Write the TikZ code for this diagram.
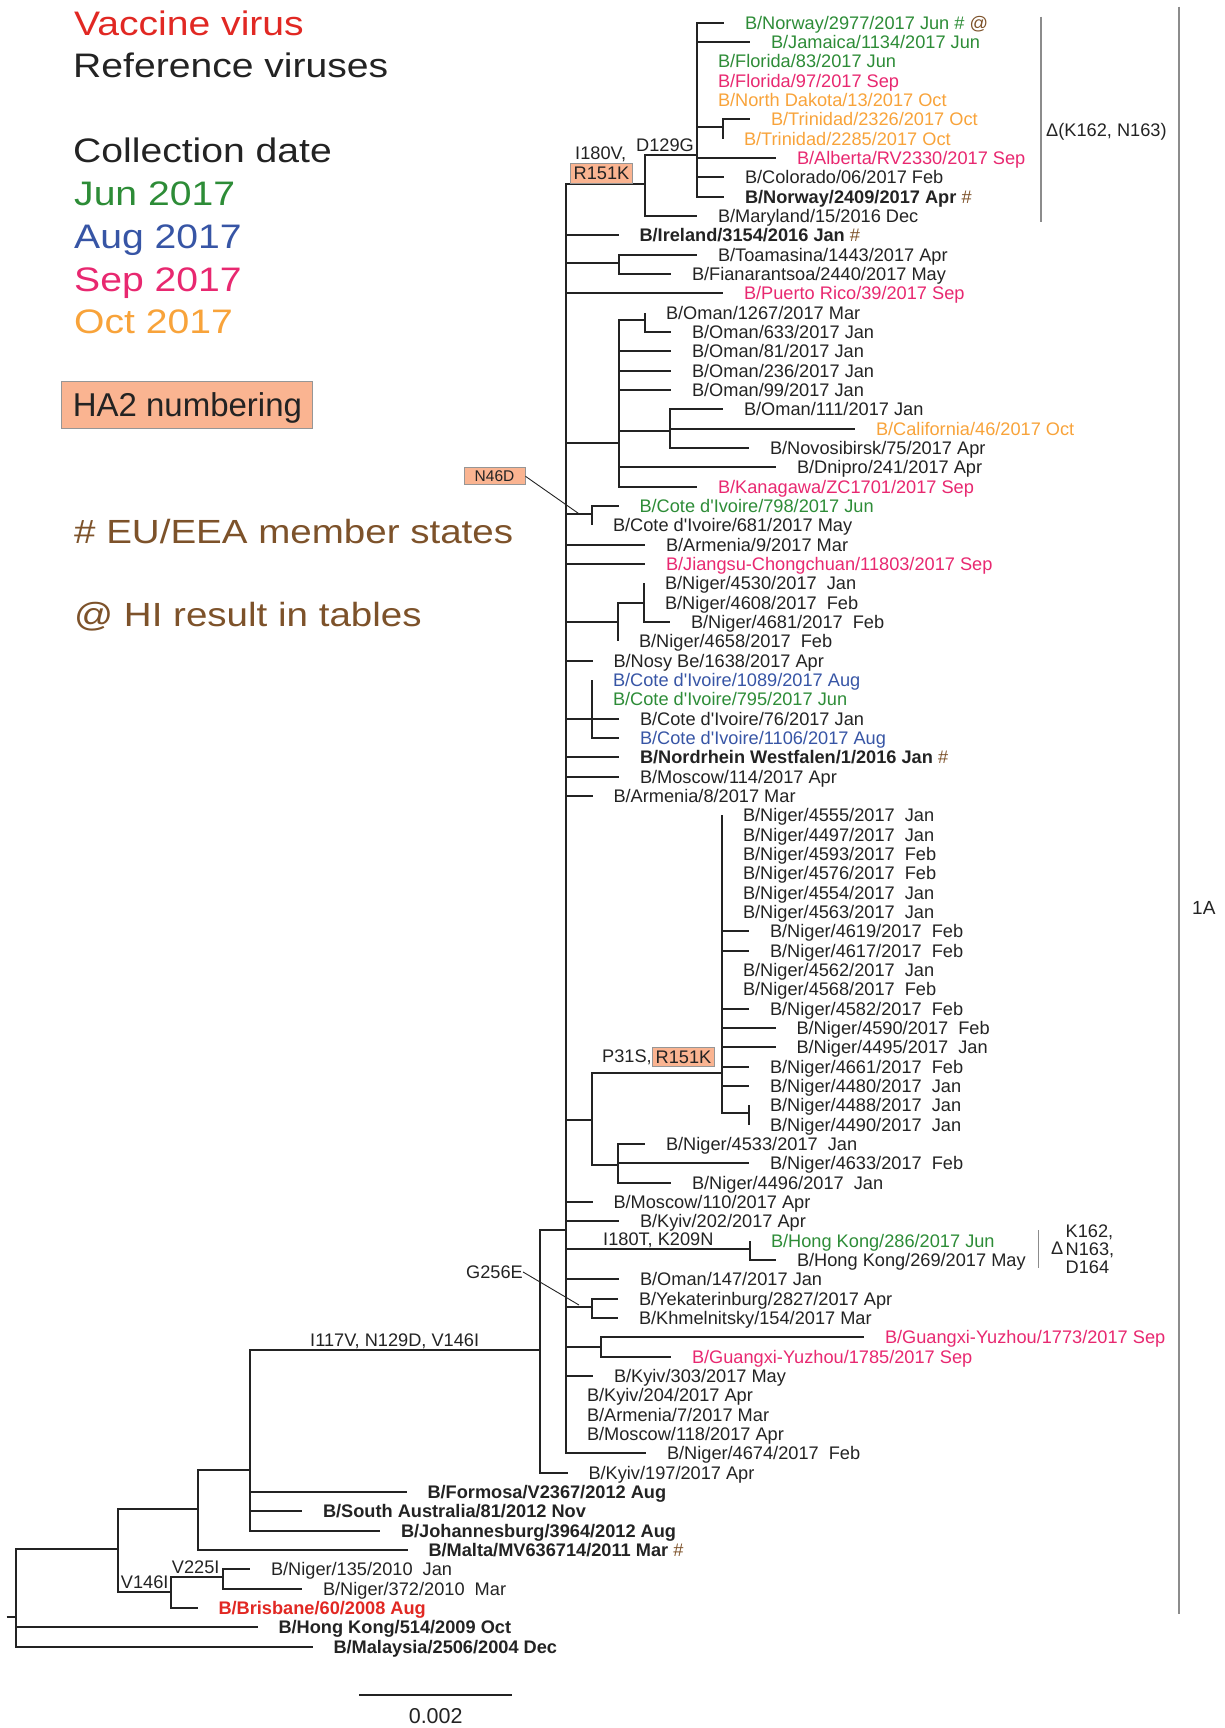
\documentclass[tikz,border=0pt]{standalone}
\usepackage{fontspec}
\setmainfont{Liberation Sans}
\newfontfamily\legendfont{Liberation Sans}[FakeStretch=1.15]
\usepackage{tikz}
\usetikzlibrary{positioning,calc}
\definecolor{ink}{RGB}{35,35,35}
\definecolor{vacc}{RGB}{225,40,35}
\definecolor{cJun}{RGB}{45,140,55}
\definecolor{cAug}{RGB}{55,85,165}
\definecolor{cSep}{RGB}{232,40,112}
\definecolor{cOct}{RGB}{248,163,58}
\definecolor{hash}{RGB}{125,82,42}
\definecolor{salmon}{RGB}{250,180,145}
\definecolor{boxline}{RGB}{150,150,150}
\definecolor{brk}{RGB}{140,140,140}
\newcommand\seqfont{\fontsize{18.2}{19.5}\selectfont}
\newcommand\cdi{Cote d\textquotesingle Ivoire}
\tikzset{
    seq/.style={
        anchor=west,
        inner xsep=21pt,
        inner ysep=0pt,
        outer sep=0pt,
        text height=14.3pt,
        text depth=1.3pt,
        font=\seqfont,
        text=ink,
    },
    refseq/.style={
        seq,
        font=\seqfont\bfseries,
    },
    subst/.style={
        draw=boxline,
        fill=salmon,
        line width=1pt,
        inner xsep=3pt,
        inner ysep=3.4pt,
        text height=13pt,
        text depth=0pt,
        font=\seqfont,
        text=ink,
    },
    note/.style={
        anchor=base west,
        inner sep=0pt,
        font=\seqfont,
        text=ink,
    },
    legend/.style={
        anchor=base west,
        inner sep=0pt,
        font=\legendfont\fontsize{34}{40}\selectfont,
        text=ink,
    },
    branch/.style={
        draw=ink,
        line width=2pt,
    },
    bracket/.style={
        draw=brk,
        line width=1.3pt,
    },
    pointer/.style={
        draw=ink,
        line width=0.9pt,
    },
}

\begin{document}
\begin{tikzpicture}[x=1pt,y=-1pt]
  \useasboundingbox (0,0) rectangle (1224,1728);

  % legend
  \node [legend,text=vacc] (lgVacc) at (74,36) {Vaccine virus};
  \node [legend] (lgRef) at (73,77.5) {Reference viruses};
  \node [legend] (lgDate) at (73,163) {Collection date};
  \node [legend,text=cJun] (lgJun) at (74,206) {Jun 2017};
  \node [legend,text=cAug] (lgAug) at (74,248.5) {Aug 2017};
  \node [legend,text=cSep] (lgSep) at (74,291) {Sep 2017};
  \node [legend,text=cOct] (lgOct) at (74,333.5) {Oct 2017};
  \node [subst,minimum width=251pt,minimum height=47.6pt,text height=24.3pt,
         font=\fontsize{33}{38}\selectfont] (lgHA2) at (187.4,404.8) {HA2 numbering};
  \node [legend,text=hash,font=\legendfont\fontsize{33.5}{40}\selectfont] (lgEU) at (74,543) {\# EU/EEA member states};
  \node [legend,text=hash,font=\legendfont\fontsize{33.5}{40}\selectfont] (lgHI) at (74,626) {@ HI result in tables};

  \begin{scope}[shift={(0,3.37)},y=-19.333pt]
    % internal nodes of the tree
    \coordinate (nStub) at (6.7,83.45);
    \coordinate (nRoot) at (16,83.45);
    \coordinate (nA) at (117.8,79.95);
    \coordinate (nB) at (197.8,77.9);
    \coordinate (nV146) at (170.7,82.17);
    \coordinate (nV225) at (222.7,81.38);
    \coordinate (nI117) at (249.6,75.85);
    \coordinate (n540) at (540,69.65);
    \coordinate (nBack) at (566,63.45);
    \coordinate (nI180) at (645,9.36);
    \coordinate (nD129) at (697,7.84);
    \coordinate (nTrin) at (723,6.4);
    \coordinate (nToam) at (619,13.45);
    \coordinate (nOman) at (618.5,22.76);
    \coordinate (nOmanA) at (645,16.4);
    \coordinate (nOman111) at (670,22.1);
    \coordinate (nCdIa) at (592,26.4);
    \coordinate (nNigA) at (618,32);
    \coordinate (nNigB) at (644,31);
    \coordinate (nCdIb) at (592,37);
    \coordinate (nNigBig) at (592,57.76);
    \coordinate (nP31S) at (722,55.34);
    \coordinate (nN4488) at (749,57.4);
    \coordinate (nN4533) at (618,60.1);
    \coordinate (nHK) at (750,64.45);
    \coordinate (nYek) at (592,67.45);
    \coordinate (nGx) at (600.5,69.5);

    % leaves
    \node [seq,text=cJun] (lNor2977) at (724,1) {B/Norway/2977/2017 Jun \# \textcolor{hash}{@}};
    \node [seq,text=cJun] (lJam1134) at (750,2) {B/Jamaica/1134/2017 Jun};
    \node [seq,text=cJun] (lFlo83) at (697,3) {B/Florida/83/2017 Jun};
    \node [seq,text=cSep] (lFlo97) at (697,4) {B/Florida/97/2017 Sep};
    \node [seq,text=cOct] (lNDak13) at (697,5) {B/North Dakota/13/2017 Oct};
    \node [seq,text=cOct] (lTri2326) at (750,6) {B/Trinidad/2326/2017 Oct};
    \node [seq,text=cOct] (lTri2285) at (723,7) {B/Trinidad/2285/2017 Oct};
    \node [seq,text=cSep] (lAlb2330) at (776,8) {B/Alberta/RV2330/2017 Sep};
    \node [seq] (lCol06) at (724,9) {B/Colorado/06/2017 Feb};
    \node [refseq] (lNor2409) at (724,10) {B/Norway/2409/2017 Apr \textcolor{hash}{\mdseries\#}};
    \node [seq] (lMar15) at (697,11) {B/Maryland/15/2016 Dec};
    \node [refseq] (lIre3154) at (618.5,12) {B/Ireland/3154/2016 Jan \textcolor{hash}{\mdseries\#}};
    \node [seq] (lToa1443) at (697,13) {B/Toamasina/1443/2017 Apr};
    \node [seq] (lFia2440) at (671,14) {B/Fianarantsoa/2440/2017 May};
    \node [seq,text=cSep] (lPR39) at (723,15) {B/Puerto Rico/39/2017 Sep};
    \node [seq] (lOma1267) at (645,16) {B/Oman/1267/2017 Mar};
    \node [seq] (lOma633) at (671,17) {B/Oman/633/2017 Jan};
    \node [seq] (lOma81) at (671,18) {B/Oman/81/2017 Jan};
    \node [seq] (lOma236) at (671,19) {B/Oman/236/2017 Jan};
    \node [seq] (lOma99) at (671,20) {B/Oman/99/2017 Jan};
    \node [seq] (lOma111) at (723,21) {B/Oman/111/2017 Jan};
    \node [seq,text=cOct] (lCal46) at (855,22) {B/California/46/2017 Oct};
    \node [seq] (lNov75) at (749,23) {B/Novosibirsk/75/2017 Apr};
    \node [seq] (lDni241) at (776,24) {B/Dnipro/241/2017 Apr};
    \node [seq,text=cSep] (lKan1701) at (697,25) {B/Kanagawa/ZC1701/2017 Sep};
    \node [seq,text=cJun] (lCdI798) at (618.5,26) {B/\cdi/798/2017 Jun};
    \node [seq] (lCdI681) at (592,27) {B/\cdi/681/2017 May};
    \node [seq] (lArm9) at (645,28) {B/Armenia/9/2017 Mar};
    \node [seq,text=cSep] (lJia11803) at (645,29) {B/Jiangsu-Chongchuan/11803/2017 Sep};
    \node [seq] (lNig4530) at (644,30) {B/Niger/4530/2017\ \ Jan};
    \node [seq] (lNig4608) at (644,31) {B/Niger/4608/2017\ \ Feb};
    \node [seq] (lNig4681) at (670,32) {B/Niger/4681/2017\ \ Feb};
    \node [seq] (lNig4658) at (618,33) {B/Niger/4658/2017\ \ Feb};
    \node [seq] (lNos1638) at (592.5,34) {B/Nosy Be/1638/2017 Apr};
    \node [seq,text=cAug] (lCdI1089) at (592,35) {B/\cdi/1089/2017 Aug};
    \node [seq,text=cJun] (lCdI795) at (592,36) {B/\cdi/795/2017 Jun};
    \node [seq] (lCdI76) at (619,37) {B/\cdi/76/2017 Jan};
    \node [seq,text=cAug] (lCdI1106) at (619,38) {B/\cdi/1106/2017 Aug};
    \node [refseq] (lNRW1) at (619,39) {B/Nordrhein Westfalen/1/2016 Jan \textcolor{hash}{\mdseries\#}};
    \node [seq] (lMos114) at (619,40) {B/Moscow/114/2017 Apr};
    \node [seq] (lArm8) at (592.5,41) {B/Armenia/8/2017 Mar};
    \node [seq] (lNig4555) at (722,42) {B/Niger/4555/2017\ \ Jan};
    \node [seq] (lNig4497) at (722,43) {B/Niger/4497/2017\ \ Jan};
    \node [seq] (lNig4593) at (722,44) {B/Niger/4593/2017\ \ Feb};
    \node [seq] (lNig4576) at (722,45) {B/Niger/4576/2017\ \ Feb};
    \node [seq] (lNig4554) at (722,46) {B/Niger/4554/2017\ \ Jan};
    \node [seq] (lNig4563) at (722,47) {B/Niger/4563/2017\ \ Jan};
    \node [seq] (lNig4619) at (749,48) {B/Niger/4619/2017\ \ Feb};
    \node [seq] (lNig4617) at (749,49) {B/Niger/4617/2017\ \ Feb};
    \node [seq] (lNig4562) at (722,50) {B/Niger/4562/2017\ \ Jan};
    \node [seq] (lNig4568) at (722,51) {B/Niger/4568/2017\ \ Feb};
    \node [seq] (lNig4582) at (749,52) {B/Niger/4582/2017\ \ Feb};
    \node [seq] (lNig4590) at (775.5,53) {B/Niger/4590/2017\ \ Feb};
    \node [seq] (lNig4495) at (775.5,54) {B/Niger/4495/2017\ \ Jan};
    \node [seq] (lNig4661) at (749,55) {B/Niger/4661/2017\ \ Feb};
    \node [seq] (lNig4480) at (749,56) {B/Niger/4480/2017\ \ Jan};
    \node [seq] (lNig4488) at (749,57) {B/Niger/4488/2017\ \ Jan};
    \node [seq] (lNig4490) at (749,58) {B/Niger/4490/2017\ \ Jan};
    \node [seq] (lNig4533) at (645,59) {B/Niger/4533/2017\ \ Jan};
    \node [seq] (lNig4633) at (749,60) {B/Niger/4633/2017\ \ Feb};
    \node [seq] (lNig4496) at (671,61) {B/Niger/4496/2017\ \ Jan};
    \node [seq] (lMos110) at (592.5,62) {B/Moscow/110/2017 Apr};
    \node [seq] (lKyi202) at (619,63) {B/Kyiv/202/2017 Apr};
    \node [seq,text=cJun] (lHK286) at (750,64) {B/Hong Kong/286/2017 Jun};
    \node [seq] (lHK269) at (776,65) {B/Hong Kong/269/2017 May};
    \node [seq] (lOma147) at (619,66) {B/Oman/147/2017 Jan};
    \node [seq] (lYek2827) at (618,67) {B/Yekaterinburg/2827/2017 Apr};
    \node [seq] (lKhm154) at (618,68) {B/Khmelnitsky/154/2017 Mar};
    \node [seq,text=cSep] (lGua1773) at (864,69) {B/Guangxi-Yuzhou/1773/2017 Sep};
    \node [seq,text=cSep] (lGua1785) at (671,70) {B/Guangxi-Yuzhou/1785/2017 Sep};
    \node [seq] (lKyi303) at (593,71) {B/Kyiv/303/2017 May};
    \node [seq] (lKyi204) at (566,72) {B/Kyiv/204/2017 Apr};
    \node [seq] (lArm7) at (566,73) {B/Armenia/7/2017 Mar};
    \node [seq] (lMos118) at (566,74) {B/Moscow/118/2017 Apr};
    \node [seq] (lNig4674) at (646,75) {B/Niger/4674/2017\ \ Feb};
    \node [seq] (lKyi197) at (567.5,76) {B/Kyiv/197/2017 Apr};
    \node [refseq] (lFor2367) at (406.5,77) {B/Formosa/V2367/2012 Aug};
    \node [refseq] (lSAu81) at (302,78) {B/South Australia/81/2012 Nov};
    \node [refseq] (lJoh3964) at (380,79) {B/Johannesburg/3964/2012 Aug};
    \node [refseq] (lMal636714) at (407.5,80) {B/Malta/MV636714/2011 Mar \textcolor{hash}{\mdseries\#}};
    \node [seq] (lNig135) at (250,81) {B/Niger/135/2010\ \ Jan};
    \node [seq] (lNig372) at (302,82) {B/Niger/372/2010\ \ Mar};
    \node [refseq,text=vacc] (lBri60) at (197.5,83) {B/Brisbane/60/2008 Aug};
    \node [refseq] (lHK514) at (257.5,84) {B/Hong Kong/514/2009 Oct};
    \node [refseq] (lMys2506) at (312.5,85) {B/Malaysia/2506/2004 Dec};

    % branches
    \draw [branch] (nStub) -- (nRoot);
    \draw [branch] (nRoot) |- (nA) (nRoot) |- (lHK514.west) (nRoot) |- (lMys2506.west);
    \draw [branch] (nA) |- (nB) (nA) |- (nV146);
    \draw [branch] (nV146) |- (nV225) (nV146) |- (lBri60.west);
    \draw [branch] (nV225) |- (lNig135.west) (nV225) |- (lNig372.west);
    \draw [branch] (nB) |- (nI117) (nB) |- (lMal636714.west);
    \draw [branch] (nI117) |- (n540) (nI117) |- (lFor2367.west)
                   (nI117) |- (lSAu81.west) (nI117) |- (lJoh3964.west);
    \draw [branch] (n540) |- (nBack) (n540) |- (lKyi197.west);
    \draw [branch] (nBack) |- (nI180) (nBack) |- (lIre3154.west) (nBack) |- (nToam)
                   (nBack) |- (lPR39.west) (nBack) |- (nOman) (nBack) |- (nCdIa)
                   (nBack) |- (lArm9.west) (nBack) |- (lJia11803.west) (nBack) |- (nNigA)
                   (nBack) |- (lNos1638.west) (nBack) |- (nCdIb) (nBack) |- (lNRW1.west)
                   (nBack) |- (lMos114.west) (nBack) |- (lArm8.west) (nBack) |- (nNigBig)
                   (nBack) |- (lMos110.west) (nBack) |- (lKyi202.west) (nBack) |- (nHK)
                   (nBack) |- (lOma147.west) (nBack) |- (nYek) (nBack) |- (nGx)
                   (nBack) |- (lKyi303.west) (nBack) |- (lKyi204.west) (nBack) |- (lArm7.west)
                   (nBack) |- (lMos118.west) (nBack) |- (lNig4674.west);
    \draw [branch] (nI180) |- (nD129) (nI180) |- (lMar15.west);
    \draw [branch] (nD129) |- (lNor2977.west) (nD129) |- (lJam1134.west) (nD129) |- (lFlo83.west)
                   (nD129) |- (lFlo97.west) (nD129) |- (lNDak13.west) (nD129) |- (nTrin)
                   (nD129) |- (lAlb2330.west) (nD129) |- (lCol06.west) (nD129) |- (lNor2409.west);
    \draw [branch] (nTrin) |- (lTri2326.west) (nTrin) |- (lTri2285.west);
    \draw [branch] (nToam) |- (lToa1443.west) (nToam) |- (lFia2440.west);
    \draw [branch] (nOman) |- (nOmanA) (nOman) |- (lOma81.west) (nOman) |- (lOma236.west)
                   (nOman) |- (lOma99.west) (nOman) |- (nOman111) (nOman) |- (lDni241.west)
                   (nOman) |- (lKan1701.west);
    \draw [branch] (nOmanA) |- (lOma1267.west) (nOmanA) |- (lOma633.west);
    \draw [branch] (nOman111) |- (lOma111.west) (nOman111) |- (lCal46.west) (nOman111) |- (lNov75.west);
    \draw [branch] (nCdIa) |- (lCdI798.west) (nCdIa) |- (lCdI681.west);
    \draw [branch] (nNigA) |- (nNigB) (nNigA) |- (lNig4658.west);
    \draw [branch] (nNigB) |- (lNig4530.west) (nNigB) |- (lNig4608.west) (nNigB) |- (lNig4681.west);
    \draw [branch] (nCdIb) |- (lCdI1089.west) (nCdIb) |- (lCdI795.west)
                   (nCdIb) |- (lCdI76.west) (nCdIb) |- (lCdI1106.west);
    \draw [branch] (nNigBig) |- (nP31S) (nNigBig) |- (nN4533);
    \draw [branch] (nP31S) |- (lNig4555.west) (nP31S) |- (lNig4497.west) (nP31S) |- (lNig4593.west)
                   (nP31S) |- (lNig4576.west) (nP31S) |- (lNig4554.west) (nP31S) |- (lNig4563.west)
                   (nP31S) |- (lNig4619.west) (nP31S) |- (lNig4617.west) (nP31S) |- (lNig4562.west)
                   (nP31S) |- (lNig4568.west) (nP31S) |- (lNig4582.west) (nP31S) |- (lNig4590.west)
                   (nP31S) |- (lNig4495.west) (nP31S) |- (lNig4661.west) (nP31S) |- (lNig4480.west)
                   (nP31S) |- (nN4488);
    \draw [branch] (nN4488) |- (lNig4488.west) (nN4488) |- (lNig4490.west);
    \draw [branch] (nN4533) |- (lNig4533.west) (nN4533) |- (lNig4633.west) (nN4533) |- (lNig4496.west);
    \draw [branch] (nHK) |- (lHK286.west) (nHK) |- (lHK269.west);
    \draw [branch] (nYek) |- (lYek2827.west) (nYek) |- (lKhm154.west);
    \draw [branch] (nGx) |- (lGua1773.west) (nGx) |- (lGua1785.west);
  \end{scope}

  % substitutions on branches
  \node [note] (tI180V) at (575,160) {I180V,};
  \node [subst] (bR151Ka) at (601.5,173.3) {R151K};
  \node [note] (tD129G) at (636,151.7) {D129G};
  \node [note] (tP31S) at (602,1062) {P31S,};
  \node [subst] (bR151Kb) at (683.5,1057) {R151K};
  \node [note] (tI180T) at (603,1245) {I180T, K209N};
  \node [note] (tI117V) at (310,1346.5) {I117V, N129D, V146I};
  \node [note] (tV225I) at (171.7,1573.5) {V225I};
  \node [note] (tV146I) at (120.7,1588.3) {V146I};
  \node [subst,minimum width=61pt,minimum height=17.3pt,inner ysep=0pt,text height=11.1pt,
         font=\fontsize{15.5}{17}\selectfont] (bN46D) at (494.5,476.3) {N46D};
  \coordinate (pN46D) at (578.3,513.3);
  \draw [pointer] (bN46D.east) -- (pN46D);
  \node [note] (tG256E) at (466,1278.3) {G256E};
  \coordinate (pG256E) at (579,1305);
  \draw [pointer] (tG256E.east |- 0,1272) -- (pG256E);

  % deletion brackets and clade
  \coordinate (kTopA) at (1041,16.7);
  \coordinate (kBotA) at (1041,221.7);
  \draw [bracket] (kTopA) -- (kBotA);
  \node [note] (tDelA) at (1046,136.3) {Δ(K162, N163)};
  \coordinate (kTopB) at (1038.6,1230);
  \coordinate (kBotB) at (1038.6,1268);
  \draw [bracket] (kTopB) -- (kBotB);
  \node [note] (tDelB) at (1051,1254.4) {Δ};
  \node [note] (tK162) at (1065.5,1237.4) {K162,};
  \node [note] (tN163) at (1065.5,1255.9) {N163,};
  \node [note] (tD164) at (1065.5,1273.4) {D164};
  \coordinate (kTopC) at (1179,6.7);
  \coordinate (kBotC) at (1179,1614);
  \draw [bracket] (kTopC) -- (kBotC);
  \node [note,font=\fontsize{19}{21}\selectfont] (t1A) at (1192,914) {1A};

  % scale bar
  \coordinate (sbL) at (359.3,1695);
  \coordinate (sbR) at (512.3,1695);
  \draw [branch,line width=2.4pt] (sbL) -- (sbR);
  \node [anchor=base,inner sep=0pt,font=\fontsize{21.5}{24}\selectfont,text=ink] (tScale) at (435.7,1723.5) {0.002};
\end{tikzpicture}
\end{document}
